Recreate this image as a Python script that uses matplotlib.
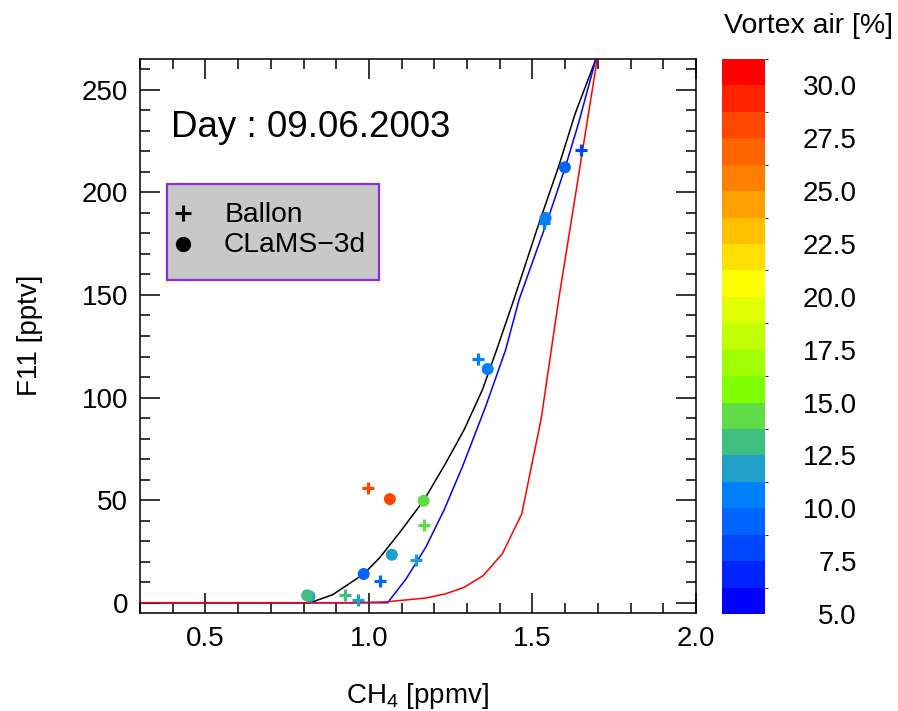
import matplotlib
matplotlib.use('Agg')
import matplotlib.pyplot as plt
import numpy as np
from matplotlib.colors import ListedColormap, BoundaryNorm
from matplotlib.patches import Rectangle
from matplotlib.ticker import MultipleLocator
from matplotlib.cm import ScalarMappable

plt.rcParams['font.family'] = ['Liberation Sans', 'DejaVu Sans']
plt.rcParams['mathtext.fontset'] = 'custom'
plt.rcParams['mathtext.rm'] = 'Liberation Sans'
plt.rcParams['mathtext.default'] = 'regular'

# ---------------- data ----------------
# Balloon observations (CH4 [ppmv], F11 [pptv], vortex air [%])
ballon_ch4 = [0.996, 1.167, 1.144, 1.034, 0.927, 0.967, 1.647, 1.535, 1.334]
ballon_f11 = [55.9, 37.7, 20.6, 10.4, 4.0, 1.5, 220.8, 185.0, 118.8]
ballon_vortex = [28.2, 14.5, 12.0, 9.5, 13.0, 12.0, 8.5, 10.5, 10.5]

# CLaMS-3d model
clams_ch4 = [1.064, 1.167, 1.070, 0.984, 0.818, 0.811, 1.599, 1.540, 1.363]
clams_f11 = [50.5, 49.7, 23.4, 14.0, 3.1, 3.6, 212.2, 187.5, 113.9]
clams_vortex = [28.2, 14.5, 12.0, 9.5, 12.0, 13.0, 9.0, 10.5, 10.5]

# reference correlation curves
black_ch4 = [0.30, 0.82, 0.889, 0.984, 1.032, 1.093, 1.169, 1.235, 1.291, 1.347,
             1.387, 1.443, 1.520, 1.580, 1.631, 1.694]
black_f11 = [0, 0, 3.9, 14.0, 21.8, 34.0, 50.2, 68.1, 84.3, 103.8,
             121.7, 147.7, 185.0, 212.6, 238.6, 265]
blue_ch4 = [0.30, 1.057, 1.113, 1.174, 1.230, 1.286, 1.357, 1.418, 1.459, 1.550,
            1.601, 1.641, 1.694]
blue_f11 = [0, 0, 11.5, 27.1, 45.3, 66.4, 95.7, 123.3, 147.7, 188.3,
            212.6, 233.8, 265]
red_ch4 = [0.30, 0.95, 1.05, 1.174, 1.235, 1.291, 1.349, 1.408, 1.467, 1.527, 1.580, 1.698]
red_f11 = [0, 0, 0.4, 2.3, 4.4, 7.5, 13.2, 23.9, 43.2, 90.0, 147.7, 265]

# colour scale
cbar_bounds = [5 + 1.25 * k for k in range(22)]
band_colors = [(0, 0, 255), (0, 35, 255), (0, 70, 255), (0, 100, 255), (0, 128, 255),
               (32, 160, 200), (64, 192, 128), (96, 220, 72), (128, 255, 0),
               (160, 255, 0), (192, 255, 0), (224, 255, 0), (255, 255, 0),
               (255, 224, 0), (255, 192, 0), (255, 160, 0), (255, 128, 0),
               (255, 100, 0), (255, 70, 0), (255, 35, 0), (255, 0, 0)]
cbar_ticks = [5.0, 7.5, 10.0, 12.5, 15.0, 17.5, 20.0, 22.5, 25.0, 27.5, 30.0]

xticks = [0.5, 1.0, 1.5, 2.0]
xticklabels = ['0.5', '1.0', '1.5', '2.0']
yticks = [0, 50, 100, 150, 200, 250]
yticklabels = ['0', '50', '100', '150', '200', '250']

# ---------------- figure ----------------
W, H = 898, 711
fig = plt.figure(figsize=(W / 100, H / 100), dpi=100)
ax = fig.add_axes([140 / W, 1 - 613 / H, 556 / W, 554 / H])
cax = fig.add_axes([722 / W, 1 - 614 / H, 43 / W, 555 / H])

cmap = ListedColormap(np.array(band_colors) / 255.0)
norm = BoundaryNorm(cbar_bounds, cmap.N)

ax.plot(black_ch4, black_f11, color='black', lw=1.1, zorder=2)
ax.plot(blue_ch4, blue_f11, color='blue', lw=1.1, zorder=2)
ax.plot(red_ch4, red_f11, color='red', lw=1.1, zorder=2)

ax.scatter(ballon_ch4, ballon_f11, c=ballon_vortex, cmap=cmap, norm=norm,
           marker='+', s=75, linewidths=2.3, zorder=3)
ax.scatter(clams_ch4, clams_f11, c=clams_vortex, cmap=cmap, norm=norm,
           marker='o', s=75, linewidths=0, zorder=4)

ax.set_xlim(0.3, 2.0)
ax.set_ylim(-5, 265)
ax.set_xticks(xticks)
ax.set_xticklabels(xticklabels)
ax.set_yticks(yticks)
ax.set_yticklabels(yticklabels)
ax.xaxis.set_minor_locator(MultipleLocator(0.1))
ax.yaxis.set_minor_locator(MultipleLocator(10))
ax.tick_params(which='both', direction='in', top=True, right=True, width=1.1,
               labelsize=20)
ax.tick_params(which='major', length=14.4)
ax.tick_params(which='minor', length=7.2)
ax.tick_params(axis='x', pad=9)
ax.tick_params(axis='y', pad=8.5)
for s in ax.spines.values():
    s.set_linewidth(1.1)

# title text
ax.text(0.0558, 0.8597, 'Day : 09.06.2003', transform=ax.transAxes,
        fontsize=26.5, ha='left', va='baseline')

# legend box
ax.add_patch(Rectangle((0.048, 0.601), 0.382, 0.173, transform=ax.transAxes,
                       facecolor='#c8c8c8', edgecolor='#8a2be2', lw=1.6, zorder=5))
ax.plot([0.0773], [0.7226], marker='+', color='black', ms=11, mew=2.2,
        transform=ax.transAxes, zorder=6, ls='none')
ax.plot([0.0773], [0.666], marker='o', color='black', ms=11, mew=0,
        transform=ax.transAxes, zorder=6, ls='none')
ax.text(0.1529, 0.7063, 'Ballon', transform=ax.transAxes, fontsize=20.3,
        ha='left', va='baseline', zorder=6)
ax.text(0.1510, 0.6522, 'CLaMS\u22123d', transform=ax.transAxes, fontsize=20.3,
        ha='left', va='baseline', zorder=6)

# axis labels
fig.text(417 / W, 1 - 703.3 / H, r'CH$_4$ [ppmv]', fontsize=20, ha='center', va='baseline')
fig.text(30 / W, 1 - 335 / H, 'F11 [pptv]', fontsize=20, rotation=90,
         ha='center', va='center')

# colorbar
sm = ScalarMappable(norm=norm, cmap=cmap)
cb = fig.colorbar(sm, cax=cax, ticks=cbar_ticks, format='%.1f', spacing='proportional')
cb.outline.set_visible(False)
cax.tick_params(length=0, pad=66, labelsize=20)
for lab in cax.get_yticklabels():
    lab.set_horizontalalignment('right')
fig.text(808 / W, 1 - 33.3 / H, 'Vortex air [%]', fontsize=20.5, ha='center', va='baseline')

fig.savefig('out.png', dpi=100)
